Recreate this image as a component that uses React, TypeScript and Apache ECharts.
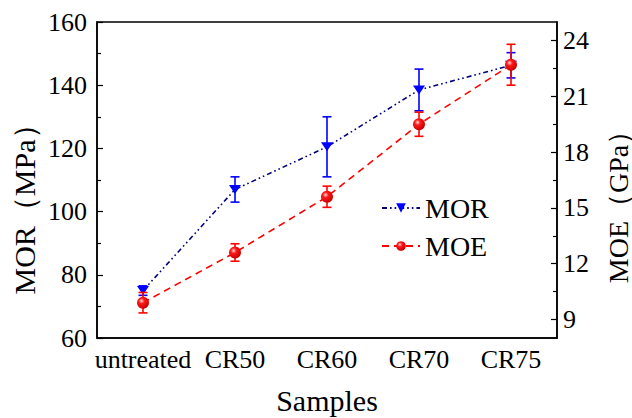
import React, { useEffect, useRef } from "react";
import * as echarts from "echarts";

const categories = ["untreated", "CR50", "CR60", "CR70", "CR75"];
const morValues = [75, 107, 120.5, 138.5, 146.3];
const morErrors = [1.5, 4, 9.5, 6.6, 4];
const moeValues = [9.9, 12.6, 15.6, 19.5, 22.7];
const moeErrors = [0.55, 0.47, 0.57, 0.65, 1.1];
const moeTickLabels = [9, 12, 15, 18, 21, 24];
const moeMinorTicks = [10.5, 13.5, 16.5, 19.5, 22.5];

const FONT = "Liberation Serif";

function errorRender(color: string) {
  return (params: any, api: any) => {
    const x = api.value(0);
    const lo = api.coord([x, api.value(1)]);
    const hi = api.coord([x, api.value(2)]);
    const hw = 4.5;
    const style = { stroke: color, lineWidth: 1.6 };
    return {
      type: "group",
      children: [
        { type: "line", shape: { x1: lo[0], y1: lo[1], x2: hi[0], y2: hi[1] }, style },
        { type: "line", shape: { x1: lo[0] - hw, y1: lo[1], x2: lo[0] + hw, y2: lo[1] }, style },
        { type: "line", shape: { x1: hi[0] - hw, y1: hi[1], x2: hi[0] + hw, y2: hi[1] }, style },
      ],
    };
  };
}

export default function App() {
  const ref = useRef<HTMLDivElement>(null);
  useEffect(() => {
    if (!ref.current) return;
    const chart = echarts.init(ref.current, null, { renderer: "svg" });
    const morErr = categories.map((_, i) => [i, morValues[i] - morErrors[i], morValues[i] + morErrors[i]]);
    const moeErr = categories.map((_, i) => [i, moeValues[i] - moeErrors[i], moeValues[i] + moeErrors[i]]);
    const sphere = {
      type: "radial",
      x: 0.38,
      y: 0.35,
      r: 0.65,
      colorStops: [
        { offset: 0, color: "#ffe0e0" },
        { offset: 0.35, color: "#ff1a1a" },
        { offset: 1, color: "#c80000" },
      ],
    };
    chart.setOption({
      animation: false,
      backgroundColor: "#ffffff",
      grid: {
        left: 97,
        right: 75,
        top: 22,
        bottom: 80,
        show: true,
        borderColor: "#000",
        borderWidth: 1.5,
        backgroundColor: "transparent",
      },
      legend: {
        orient: "vertical",
        left: 376,
        top: 189,
        itemWidth: 38,
        itemHeight: 12,
        itemGap: 10,
        data: ["MOR", "MOE"],
        textStyle: { fontFamily: FONT, fontSize: 28, color: "#000" },
      },
      xAxis: {
        type: "category",
        data: categories,
        boundaryGap: true,
        axisLine: { lineStyle: { color: "#000", width: 1.5 } },
        axisTick: { inside: true, alignWithLabel: true, length: 6, lineStyle: { color: "#000", width: 1.2 } },
        axisLabel: { fontFamily: FONT, fontSize: 26, color: "#000", margin: 8, interval: 0 },
        splitLine: { show: false },
      },
      yAxis: [
        {
          type: "value",
          min: 60,
          max: 160,
          interval: 20,
          axisLine: { show: true, lineStyle: { color: "#000", width: 1.5 } },
          axisTick: { show: true, inside: true, length: 6, lineStyle: { color: "#000", width: 1.2 } },
          minorTick: { show: true, splitNumber: 2, length: 4, lineStyle: { color: "#000", width: 1.2 } },
          axisLabel: { fontFamily: FONT, fontSize: 26, color: "#000", margin: 10 },
          splitLine: { show: false },
        },
        {
          type: "value",
          min: 8,
          max: 25,
          position: "right",
          axisLine: { show: true, lineStyle: { color: "#000", width: 1.5 } },
          axisTick: {
            show: true,
            inside: true,
            length: 6,
            customValues: moeTickLabels,
            lineStyle: { color: "#000", width: 1.2 },
          },
          axisLabel: {
            fontFamily: FONT,
            fontSize: 26,
            color: "#000",
            margin: 6,
            customValues: moeTickLabels,
          },
          splitLine: { show: false },
        },
        {
          type: "value",
          min: 8,
          max: 25,
          position: "right",
          axisLine: { show: false },
          axisTick: {
            show: true,
            inside: true,
            length: 4,
            customValues: moeMinorTicks,
            lineStyle: { color: "#000", width: 1.2 },
          },
          axisLabel: { show: false },
          splitLine: { show: false },
        },
      ],
      graphic: [
        {
          type: "text",
          x: 24,
          y: 202,
          rotation: Math.PI / 2,
          style: {
            text: "MOR（MPa）",
            fontFamily: FONT,
            fontSize: 30,
            fill: "#000",
            align: "center",
            verticalAlign: "middle",
          },
        },
        {
          type: "text",
          x: 618,
          y: 200,
          rotation: Math.PI / 2,
          style: {
            text: "MOE（GPa）",
            fontFamily: FONT,
            fontSize: 28,
            fill: "#000",
            align: "center",
            verticalAlign: "middle",
          },
        },
        {
          type: "text",
          x: 327,
          y: 400,
          style: {
            text: "Samples",
            fontFamily: FONT,
            fontSize: 30,
            fill: "#000",
            align: "center",
            verticalAlign: "middle",
          },
        },
      ],
      series: [
        {
          name: "MORerr",
          type: "custom",
          yAxisIndex: 0,
          data: morErr,
          encode: { x: 0, y: [1, 2] },
          renderItem: errorRender("#0000ff"),
          z: 2,
        },
        {
          name: "MOR",
          type: "line",
          yAxisIndex: 0,
          data: morValues,
          symbol: "path://M0,0 L12,0 L6,9 Z",
          symbolSize: [12, 9],
          itemStyle: { color: "#0000ff" },
          lineStyle: { color: "#000080", width: 1.6, type: [5, 3, 1.6, 3, 1.6, 3] },
          z: 3,
        },
        {
          name: "MOEerr",
          type: "custom",
          yAxisIndex: 1,
          data: moeErr,
          encode: { x: 0, y: [1, 2] },
          renderItem: errorRender("#ff0000"),
          z: 4,
        },
        {
          name: "MOE",
          type: "line",
          yAxisIndex: 1,
          data: moeValues,
          symbol: "circle",
          symbolSize: 12,
          itemStyle: { color: sphere },
          lineStyle: { color: "#ff0000", width: 1.6, type: [7, 5] },
          z: 5,
        },
      ],
    });
    return () => chart.dispose();
  }, []);
  return <div ref={ref} style={{ width: 632, height: 418, position: "absolute", left: 0, top: 0 }} />;
}
